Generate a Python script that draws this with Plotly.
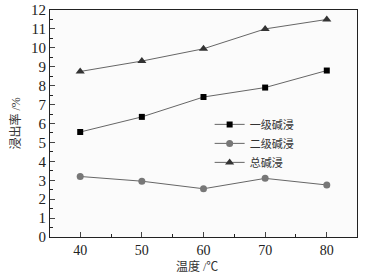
import plotly.graph_objects as go

temps = [40, 50, 60, 70, 80]
first_leach = [5.55, 6.35, 7.4, 7.9, 8.8]
second_leach = [3.2, 2.95, 2.55, 3.1, 2.75]
total_leach = [8.75, 9.3, 9.95, 11.0, 11.5]
names = ["一级碱浸", "二级碱浸", "总碱浸"]

fig = go.Figure()
styles = [("square", "#000000", 6), ("circle", "#777777", 7), ("triangle-up", "#333333", 8)]
for vals, name, (sym, col, sz) in zip([first_leach, second_leach, total_leach], names, styles):
    fig.add_trace(go.Scatter(
        x=temps, y=vals, name=name, mode="lines+markers",
        line=dict(color="#666666", width=1),
        marker=dict(symbol=sym, color=col, size=sz),
    ))

font_fam = "Liberation Serif, Noto Sans CJK SC, serif"
fig.update_layout(
    width=366, height=276,
    margin=dict(l=50, r=9, t=10, b=39, autoexpand=False),
    paper_bgcolor="white", plot_bgcolor="#fbfbfb",
    font=dict(family=font_fam, size=13, color="#222"),
    showlegend=True,
    legend=dict(x=0.52, y=0.56, xanchor="left", yanchor="top",
                bgcolor="rgba(0,0,0,0)", font=dict(size=11, color="#333"),
                tracegroupgap=0, itemwidth=30),
    annotations=[
        dict(text="温度 /℃", xref="paper", yref="paper", x=0.48, y=-0.132,
             xanchor="center", yanchor="middle", showarrow=False,
             font=dict(size=12, color="#333")),
        dict(text="浸出率 /%", xref="paper", yref="paper", x=-0.114, y=0.5,
             xanchor="center", yanchor="middle", showarrow=False, textangle=-90,
             font=dict(size=12, color="#333")),
    ],
)
fig.update_xaxes(
    range=[35.1, 84.9], tickvals=temps, ticks="inside", ticklen=5,
    minor=dict(tickvals=[45, 55, 65, 75], ticks="inside", ticklen=3, tickcolor="#222"),
    showline=True, linecolor="#222", linewidth=1, mirror=True, showgrid=False, zeroline=False,
    tickfont=dict(size=14), automargin=False,
)
fig.update_yaxes(
    range=[0, 12], dtick=1, ticks="inside", ticklen=5,
    minor=dict(dtick=0.5, ticks="inside", ticklen=3, tickcolor="#222"),
    showline=True, linecolor="#222", linewidth=1, mirror=True, showgrid=False, zeroline=False,
    tickfont=dict(size=15), automargin=False,
)
fig.write_html("out.html", config={"displayModeBar": False},
               post_script="document.body.style.margin='0';")
